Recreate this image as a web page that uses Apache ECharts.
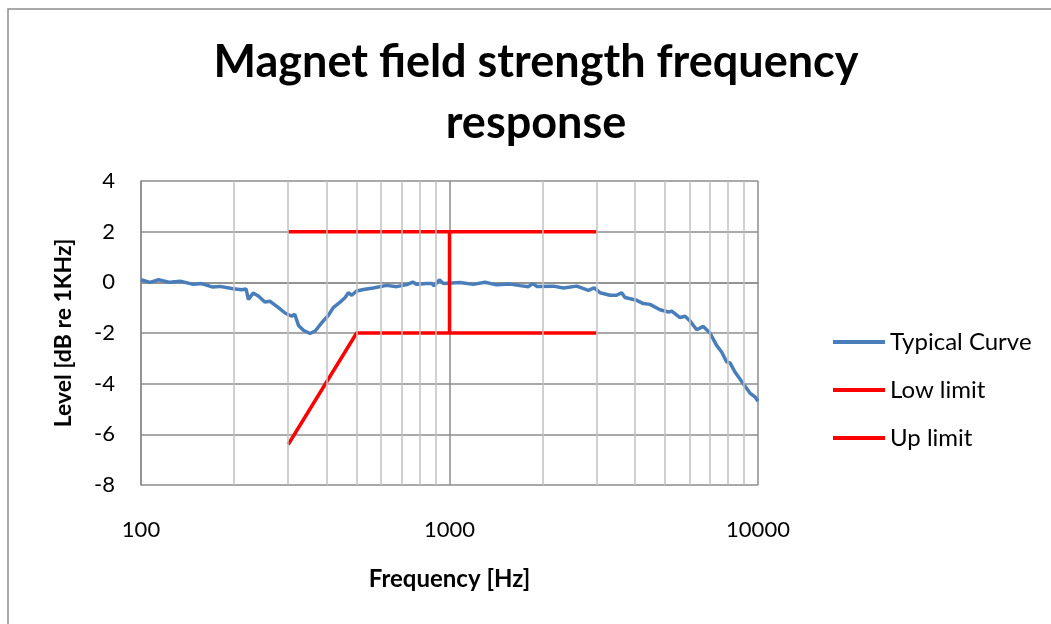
<!DOCTYPE html>
<html>
<head>
<meta charset="utf-8">
<title>Magnet field strength frequency response</title>
<script src="https://cdn.jsdelivr.net/npm/echarts@6/dist/echarts.min.js"></script>
<style>
  html, body { margin: 0; padding: 0; background: #fff; }
  #echart1 { width: 1051px; height: 624px; }
</style>
</head>
<body>
<div id="echart1"></div>
<script>
// typical curve
var freqHz = [100, 107, 114, 124, 134, 148, 157, 170, 180, 199, 212, 219, 223, 231, 240, 252, 262, 279, 293, 308,
  315, 324, 336, 353, 367, 385, 405, 420, 442, 459, 470, 482, 500, 526, 566, 626, 674, 727, 760, 783,
  844, 876, 891, 927, 955, 1082, 1194, 1303, 1422, 1571, 1693, 1802, 1862, 1918, 2172, 2340, 2585, 2819, 2942, 3075,
  3314, 3482, 3614, 3705, 4044, 4249, 4466, 4813, 5124, 5253, 5587, 5800, 6023, 6328, 6647, 6988, 7341, 7623, 7915, 8118,
  8420, 8960, 9417, 9770, 10000];
var levelDb = [0.1, 0.0, 0.1, 0.0, 0.04, -0.08, -0.05, -0.18, -0.16, -0.25, -0.29, -0.26, -0.68, -0.42, -0.54, -0.78, -0.75, -1.0, -1.21, -1.34,
  -1.26, -1.70, -1.89, -2.02, -1.92, -1.6, -1.30, -1.0, -0.78, -0.6, -0.41, -0.51, -0.34, -0.28, -0.22, -0.12, -0.17, -0.09, 0.01, -0.08,
  -0.05, -0.05, -0.14, 0.1, -0.05, -0.01, -0.08, 0, -0.1, -0.07, -0.13, -0.17, -0.05, -0.16, -0.15, -0.22, -0.15, -0.32, -0.22, -0.41,
  -0.51, -0.51, -0.41, -0.6, -0.71, -0.84, -0.87, -1.08, -1.17, -1.14, -1.39, -1.34, -1.53, -1.87, -1.74, -2.0, -2.49, -2.75, -3.14, -3.18,
  -3.54, -4.0, -4.37, -4.52, -4.69];

// limits
var lowFreq = [300, 500, 3000];
var lowLevel = [-6.4, -2, -2];
var upFreq = [300, 1000, 1000, 1000, 3000];
var upLevel = [2, 2, -2, 2, 2];

// minor log grid lines
var minorTicks = [200, 300, 400, 500, 600, 700, 800, 900, 2000, 3000, 4000, 5000, 6000, 7000, 8000, 9000];

var yTicks = { min: -8, max: 4, step: 2 };

function pairs(xs, ys) {
  var out = [];
  for (var i = 0; i < xs.length; i++) out.push([xs[i], ys[i]]);
  return out;
}

var myChart = echarts.init(document.getElementById('echart1'));
var font = 'Lato, "Open Sans", sans-serif';

option = {
  backgroundColor: '#fff',
  animation: false,
  textStyle: { fontFamily: font },
  title: {
    text: 'Magnet field strength frequency\nresponse',
    left: 536,
    top: 32,
    textAlign: 'center',
    padding: 0,
    textStyle: { fontFamily: font, fontWeight: 'bold', fontSize: 45, lineHeight: 61, color: '#000' }
  },
  graphic: [{
    type: 'rect',
    shape: { x: 8, y: 9, width: 1200, height: 800 },
    style: { fill: 'none', stroke: '#8e8e8e', lineWidth: 1.5 },
    silent: true
  }],
  legend: {
    orient: 'vertical',
    left: 828,
    top: 325,
    icon: 'rect',
    itemWidth: 52,
    itemHeight: 4,
    itemGap: 24,
    data: ['Typical Curve', 'Low limit', 'Up limit'],
    textStyle: { fontFamily: font, fontSize: 24, color: '#000', padding: [0, 0, 0, 0] }
  },
  grid: { left: 141, right: 293, top: 181, bottom: 139 },
  xAxis: {
    type: 'log',
    logBase: 10,
    min: 100,
    max: 10000,
    name: 'Frequency [Hz]',
    nameLocation: 'middle',
    nameGap: 82,
    nameTextStyle: { fontFamily: font, fontWeight: 'bold', fontSize: 24, color: '#000' },
    axisLine: { show: true, lineStyle: { color: '#8c8c8c', width: 1.5 } },
    axisTick: { show: false },
    axisLabel: { margin: 34, fontSize: 22, color: '#000', fontFamily: font, formatter: function (v) { return String(v); } },
    splitLine: { show: true, lineStyle: { color: '#8c8c8c', width: 1.5 } }
  },
  yAxis: {
    type: 'value',
    min: yTicks.min,
    max: yTicks.max,
    interval: yTicks.step,
    name: 'Level [dB re 1KHz]',
    nameLocation: 'middle',
    nameGap: 66,
    nameTextStyle: { fontFamily: font, fontWeight: 'bold', fontSize: 23, color: '#000' },
    axisLine: { show: true, lineStyle: { color: '#8c8c8c', width: 1.5 } },
    axisTick: { show: false },
    axisLabel: { margin: 26, fontSize: 22, color: '#000', fontFamily: font },
    splitLine: { show: true, lineStyle: { color: '#8c8c8c', width: 1.5 } }
  },
  series: [{
    name: 'minor',
    type: 'line',
    data: [],
    z: 1,
    silent: true,
    markLine: {
      silent: true,
      symbol: 'none',
      label: { show: false },
      lineStyle: { color: '#c0c0c0', width: 1.5, type: 'solid' },
      data: minorTicks.map(function (f) { return { xAxis: f }; })
    }
  }, {
    name: 'Typical Curve',
    type: 'line',
    symbol: 'none',
    z: 3,
    lineStyle: { color: '#4a7ebb', width: 3.5 },
    itemStyle: { color: '#4a7ebb' },
    data: pairs(freqHz, levelDb)
  }, {
    name: 'Low limit',
    type: 'line',
    symbol: 'none',
    z: 4,
    lineStyle: { color: '#ff0000', width: 3.5 },
    itemStyle: { color: '#ff0000' },
    data: pairs(lowFreq, lowLevel)
  }, {
    name: 'Up limit',
    type: 'line',
    symbol: 'none',
    z: 4,
    lineStyle: { color: '#ff0000', width: 3.5 },
    itemStyle: { color: '#ff0000' },
    data: pairs(upFreq, upLevel)
  }]
};
myChart.setOption(option);
</script>
</body>
</html>
